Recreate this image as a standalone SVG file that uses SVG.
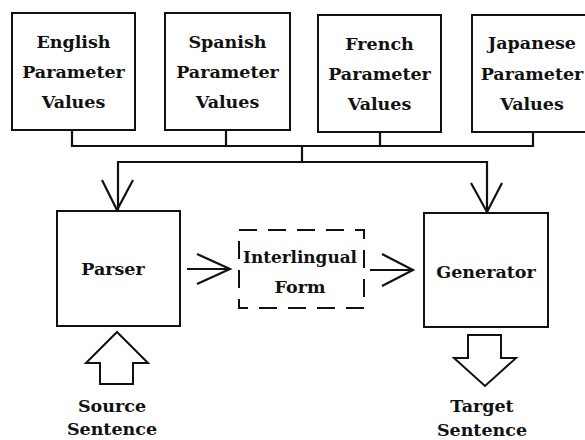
<svg xmlns="http://www.w3.org/2000/svg" width="585" height="440" viewBox="0 0 585 440">
<style>
.box{fill:#fff;stroke:#111;stroke-width:2}
.dash{fill:none;stroke:#111;stroke-width:2;stroke-dasharray:18,11}
.ln{fill:none;stroke:#111;stroke-width:2.2;stroke-linejoin:miter}
.blk{fill:#fff;stroke:#111;stroke-width:2;stroke-linejoin:miter}
text{font-family:"DejaVu Serif",serif;font-weight:bold;font-size:17.5px;fill:#111;text-anchor:middle}
</style>
<rect width="585" height="440" fill="#fff"/>
<g id="connectors">
<path class="ln" d="M72,130 V146 H533 V132 M226,130 V146 M380,132 V146 M302,146 V162 M118,210 V162 H487 V212"/>
<path class="ln" d="M102,180 L117,210 L133,180"/>
<path class="ln" d="M471,183 L487,212 L502,183"/>
<path class="ln" d="M187,269 H229 M197,254 L230,269 L197,284"/>
<path class="ln" d="M370,270 H412 M382,254 L413,270 L382,286"/>
</g>
<g id="english"><rect class="box" x="12" y="13" width="123" height="117"/>
<text x="73.5" y="48">English</text><text x="73.5" y="78">Parameter</text><text x="73.5" y="108">Values</text></g>
<g id="spanish"><rect class="box" x="165" y="13" width="125" height="117"/>
<text x="227.5" y="48">Spanish</text><text x="227.5" y="78">Parameter</text><text x="227.5" y="108">Values</text></g>
<g id="french"><rect class="box" x="318" y="15" width="123" height="117"/>
<text x="379.5" y="50">French</text><text x="379.5" y="80">Parameter</text><text x="379.5" y="110">Values</text></g>
<g id="japanese"><rect class="box" x="472" y="15" width="125" height="117"/>
<text x="532" y="49">Japanese</text><text x="532" y="80">Parameter</text><text x="532" y="110">Values</text></g>
<g id="parser"><rect class="box" x="57" y="211" width="123" height="115"/>
<text x="113" y="275">Parser</text></g>
<g id="interlingual"><rect class="dash" x="239" y="230" width="125" height="78"/>
<text x="300" y="263" textLength="114" lengthAdjust="spacingAndGlyphs">Interlingual</text><text x="300" y="293">Form</text></g>
<g id="generator"><rect class="box" x="424" y="213" width="124" height="114"/>
<text x="486" y="278">Generator</text></g>
<g id="source"><path class="blk" d="M117,332 L148,363 L133,363 L133,384 L100,384 L100,363 L86,363 Z"/>
<text x="112" y="412">Source</text><text x="112" y="435">Sentence</text></g>
<g id="target"><path class="blk" d="M468,335 L501,335 L501,358 L516,358 L485,386 L454,358 L468,358 Z"/>
<text x="482" y="412">Target</text><text x="482" y="436">Sentence</text></g>
</svg>
